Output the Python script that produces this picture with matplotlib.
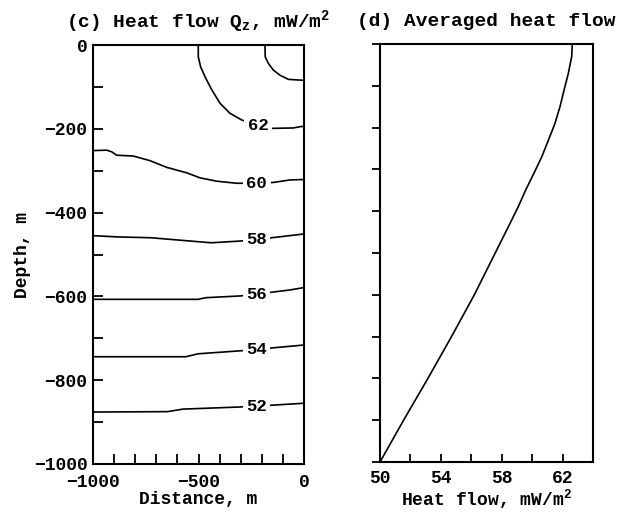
import matplotlib
matplotlib.use("Agg")
import matplotlib.pyplot as plt

FONT = "Liberation Mono"
plt.rcParams["font.family"] = [FONT, "DejaVu Sans Mono"]
plt.rcParams["font.weight"] = "bold"
plt.rcParams["mathtext.fontset"] = "custom"
plt.rcParams["mathtext.rm"] = FONT + ":bold"
plt.rcParams["mathtext.bf"] = FONT + ":bold"
plt.rcParams["mathtext.it"] = FONT + ":bold"

# ---- Panel (c): contour lines of heat flow Q_z (distance m, depth m) ----
levels = [64, 62, 60, 58, 56, 54, 52]
c64_x = [-185, -184, -169, -145, -114, -74, -11, 0]
c64_y = [0, -28, -44, -60, -72, -82, -84, -84]
c62_x = [-501, -501, -490, -469, -437, -398, -351, -295, -217, -153, -51, -19, 0]
c62_y = [0, -28, -52, -76, -107, -139, -163, -179, -191, -199, -198, -195, -194]
c60_x = [-1000, -935, -911, -888, -809, -730, -651, -556, -493, -414, -319,
         -224, -145, -66, 0]
c60_y = [-252, -251, -255, -263, -265, -276, -292, -305, -317, -325, -330,
         -330, -328, -322, -321]
c58_x = [-1000, -885, -727, -440, -306, -225, -153, 0]
c58_y = [-455, -458, -460, -472, -468, -465, -460, -451]
c56_x = [-1000, -502, -464, -306, -225, -153, -72, 0]
c56_y = [-607, -607, -603, -599, -596, -590, -585, -579]
c54_x = [-1000, -560, -502, -306, -225, -153, 0]
c54_y = [-744, -744, -737, -730, -727, -723, -716]
c52_x = [-1000, -646, -574, -306, -225, -163, 0]
c52_y = [-876, -875, -869, -864, -862, -860, -855]
contour_x = [c64_x, c62_x, c60_x, c58_x, c56_x, c54_x, c52_x]
contour_y = [c64_y, c62_y, c60_y, c58_y, c56_y, c54_y, c52_y]
# label positions (distance, depth); None = unlabeled
label_pos = [None, (-217, -191), (-224, -330), (-225, -465),
             (-225, -596), (-225, -727), (-225, -862)]

# ---- Panel (d): averaged heat flow profile ----
avg_depth = [0, -30, -70, -110, -150, -190, -230, -270, -309, -349, -389,
             -429, -469, -600, -700, -800, -900, -1000]
avg_flow = [62.64, 62.60, 62.38, 62.10, 61.83, 61.50, 61.07, 60.63, 60.12,
            59.58, 59.09, 58.55, 58.00, 56.2, 54.7, 53.15, 51.55, 50.0]

W, H = 624, 515
fig = plt.figure(figsize=(W / 100, H / 100), dpi=100)

ax1 = fig.add_axes([93 / W, 1 - 464 / H, (304 - 93) / W, (464 - 45) / H])
ax2 = fig.add_axes([380 / W, 1 - 462 / H, (593 - 380) / W, (462 - 44) / H])

for lev, xs, ys, lp in zip(levels, contour_x, contour_y, label_pos):
    ax1.plot(xs, ys, color="black", lw=1.2, solid_capstyle="butt")
    if lp is not None:
        ax1.text(lp[0], lp[1], str(lev), ha="center", va="center",
                 fontsize=12.5, fontweight="bold",
                 bbox=dict(facecolor="white", edgecolor="none", pad=2.5))

ax1.set_xlim(-1000, 0)
ax1.set_ylim(-1000, 0)
ax1.set_xticks([-1000, -500, 0])
ax1.set_xticks(range(-1000, 1, 100), minor=True)
ax1.set_yticks(range(-1000, 1, 200))
ax1.set_yticks(range(-1000, 1, 100), minor=True)
ax1.tick_params(which="both", direction="in", top=False, right=False,
                labelsize=13, width=1.3, length=7, pad=4)
ax1.tick_params(axis="x", which="both", pad=7)
ax1.set_xlabel("Distance, m", fontsize=13, fontweight="bold", labelpad=0)
ax1.set_ylabel("Depth, m", fontsize=13, fontweight="bold", labelpad=2)
ax1.set_title(r"(c) Heat flow Q$_\mathrm{z}$, mW/m$^\mathrm{2}$",
              fontsize=14, fontweight="bold", pad=13)

ax2.plot(avg_flow, avg_depth, color="black", lw=1.2)
ax2.set_xlim(50, 64)
ax2.set_ylim(-1000, 0)
ax2.set_xticks([50, 54, 58, 62])
ax2.set_xticks(range(50, 65, 2), minor=True)
ax2.set_yticks(range(-1000, 1, 100))
ax2.set_yticklabels([])
ax2.tick_params(axis="x", which="both", direction="in", top=False,
                labelsize=13, width=1.3, length=6, pad=6)
ax2.tick_params(axis="y", which="both", direction="out", right=False,
                width=1.3, length=6)
ax2.set_xlabel(r"Heat flow, mW/m$^\mathrm{2}$", fontsize=13,
               fontweight="bold", labelpad=0)
ax2.set_title("(d) Averaged heat flow", fontsize=14, fontweight="bold",
              pad=13)

for ax in (ax1, ax2):
    for sp in ax.spines.values():
        sp.set_linewidth(1.5)

fig.savefig("out.png", dpi=100)
